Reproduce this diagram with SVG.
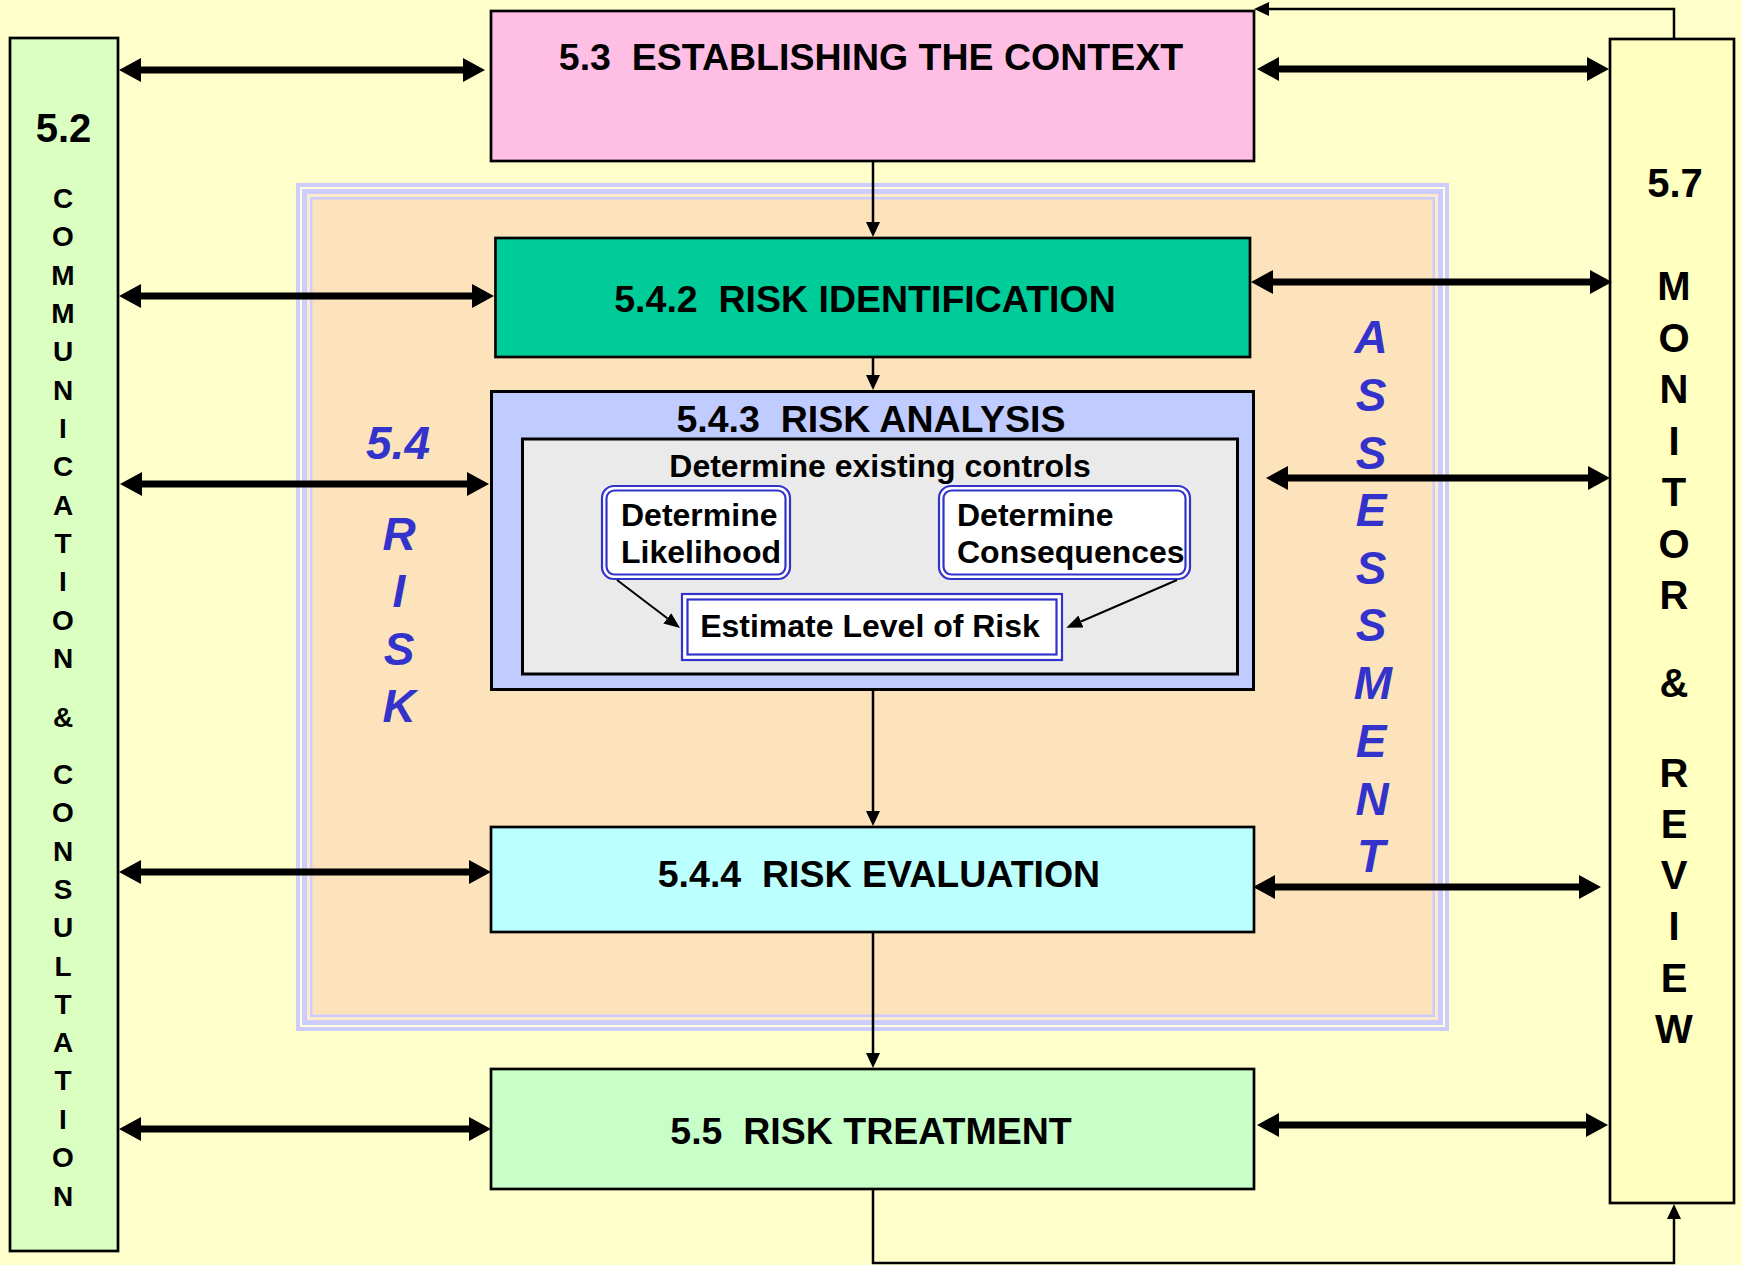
<svg xmlns="http://www.w3.org/2000/svg" width="1742" height="1265" viewBox="0 0 1742 1265">
  <style>
    .t { font-family: "Liberation Sans", Arial, Helvetica, sans-serif; font-weight: bold; fill: #000; }
    .title { font-size: 37.5px; text-anchor: middle; }
    .sub { font-size: 32px; }
    .mid { text-anchor: middle; }
    .blue { fill: #3333CC; font-style: italic; font-size: 46px; text-anchor: middle; }
    .lt { font-size: 28px; text-anchor: middle; }
    .rt { font-size: 40px; text-anchor: middle; }
    .box { stroke: #000; stroke-width: 2.7; }
    .box3 { stroke: #000; stroke-width: 3; }
    .dbl { fill: #fff; stroke: #3333CC; stroke-width: 2.2; }
    .thick { stroke: #000; stroke-width: 7; fill: none; marker-start: url(#bigHead); marker-end: url(#bigHead); }
    .thin { stroke: #000; stroke-width: 2.5; fill: none; marker-end: url(#smallHead); }
    .fine { stroke: #000; stroke-width: 2; fill: none; marker-end: url(#innerHead); }
  </style>
  <defs>
    <marker id="bigHead" markerUnits="userSpaceOnUse" viewBox="0 0 22 24" markerWidth="22" markerHeight="24" refX="0" refY="12" orient="auto-start-reverse">
      <path d="M0,0 L22,12 L0,24 z" fill="#000"/>
    </marker>
    <marker id="smallHead" markerUnits="userSpaceOnUse" viewBox="0 0 15 14" markerWidth="15" markerHeight="14" refX="0" refY="7" orient="auto">
      <path d="M0,0 L15,7 L0,14 z" fill="#000"/>
    </marker>
    <marker id="innerHead" markerUnits="userSpaceOnUse" viewBox="0 0 16 13" markerWidth="16" markerHeight="13" refX="0" refY="6.5" orient="auto">
      <path d="M0,0 L16,6.5 L0,13 z" fill="#000"/>
    </marker>
  </defs>

  <!-- page -->
  <rect x="0" y="0" width="1742" height="1265" fill="#FFFFCC"/>

  <!-- 5.4 risk assessment frame: striped border around peach field -->
  <g id="risk-assessment">
    <rect x="296" y="183" width="1153" height="848" fill="#CCCCFF"/>
    <rect x="300" y="187" width="1145" height="840" fill="#FFFFDD"/>
    <rect x="302" y="189" width="1141" height="836" fill="#CCCCFF"/>
    <rect x="307" y="194" width="1131" height="826" fill="#FEEBCB"/>
    <rect x="310" y="197" width="1125" height="820" fill="#CCCCFF"/>
    <rect x="312.5" y="199.5" width="1120" height="815" fill="#FCE3BB"/>
    <text class="t blue" x="398" y="459" font-size="45">5.4</text>
    <text class="t blue" x="399" y="550">R</text>
    <text class="t blue" x="399" y="607">I</text>
    <text class="t blue" x="399" y="665">S</text>
    <text class="t blue" x="399" y="722">K</text>
    <text class="t blue" x="1371" y="353">A</text>
    <text class="t blue" x="1371" y="411">S</text>
    <text class="t blue" x="1371" y="469">S</text>
    <text class="t blue" x="1371" y="526">E</text>
    <text class="t blue" x="1371" y="584">S</text>
    <text class="t blue" x="1371" y="641">S</text>
    <text class="t blue" x="1373" y="699">M</text>
    <text class="t blue" x="1371" y="757">E</text>
    <text class="t blue" x="1372" y="815">N</text>
    <text class="t blue" x="1371" y="872">T</text>
  </g>

  <!-- 5.2 communication and consultation -->
  <g id="communication">
    <rect class="box" x="10" y="38" width="108" height="1213" fill="#DAFFC0"/>
    <text class="t mid" x="63.5" y="142" font-size="40">5.2</text>
    <text class="t lt" x="63" y="208">C</text>
    <text class="t lt" x="63" y="246">O</text>
    <text class="t lt" x="63" y="285">M</text>
    <text class="t lt" x="63" y="323">M</text>
    <text class="t lt" x="63" y="361">U</text>
    <text class="t lt" x="63" y="400">N</text>
    <text class="t lt" x="63" y="438">I</text>
    <text class="t lt" x="63" y="476">C</text>
    <text class="t lt" x="63" y="515">A</text>
    <text class="t lt" x="63" y="553">T</text>
    <text class="t lt" x="63" y="591">I</text>
    <text class="t lt" x="63" y="630">O</text>
    <text class="t lt" x="63" y="668">N</text>
    <text class="t lt" x="63" y="727">&amp;</text>
    <text class="t lt" x="63" y="784">C</text>
    <text class="t lt" x="63" y="822">O</text>
    <text class="t lt" x="63" y="861">N</text>
    <text class="t lt" x="63" y="899">S</text>
    <text class="t lt" x="63" y="937">U</text>
    <text class="t lt" x="63" y="976">L</text>
    <text class="t lt" x="63" y="1014">T</text>
    <text class="t lt" x="63" y="1052">A</text>
    <text class="t lt" x="63" y="1090">T</text>
    <text class="t lt" x="63" y="1129">I</text>
    <text class="t lt" x="63" y="1167">O</text>
    <text class="t lt" x="63" y="1206">N</text>
  </g>

  <!-- 5.7 monitor and review -->
  <g id="monitor">
    <rect class="box" x="1610" y="39" width="124" height="1164" fill="#FFFFBF"/>
    <text class="t rt" x="1675" y="197" font-size="41">5.7</text>
    <text class="t rt" x="1674" y="300">M</text>
    <text class="t rt" x="1674" y="352">O</text>
    <text class="t rt" x="1674" y="403">N</text>
    <text class="t rt" x="1674" y="455">I</text>
    <text class="t rt" x="1674" y="506">T</text>
    <text class="t rt" x="1674" y="558">O</text>
    <text class="t rt" x="1674" y="609">R</text>
    <text class="t rt" x="1674" y="697">&amp;</text>
    <text class="t rt" x="1674" y="787">R</text>
    <text class="t rt" x="1674" y="838">E</text>
    <text class="t rt" x="1674" y="889">V</text>
    <text class="t rt" x="1674" y="940">I</text>
    <text class="t rt" x="1674" y="992">E</text>
    <text class="t rt" x="1674" y="1043">W</text>
  </g>

  <!-- 5.3 establishing the context -->
  <g id="context">
    <rect class="box" x="491" y="11" width="763" height="150" fill="#FFBFE5"/>
    <text class="t title" x="871" y="70" xml:space="preserve">5.3  ESTABLISHING THE CONTEXT</text>
  </g>

  <!-- 5.4.2 risk identification -->
  <g id="identification">
    <rect class="box" x="495.5" y="238" width="754.5" height="119" fill="#00CC99"/>
    <text class="t title" x="865" y="312" xml:space="preserve">5.4.2  RISK IDENTIFICATION</text>
  </g>

  <!-- 5.4.3 risk analysis with its inner steps -->
  <g id="analysis">
    <rect class="box3" x="491.5" y="391.5" width="762" height="298" fill="#C0CCFF"/>
    <text class="t title" x="871" y="432" xml:space="preserve">5.4.3  RISK ANALYSIS</text>
    <g id="existing-controls">
      <rect class="box3" x="522.5" y="439" width="715" height="235" fill="#EAEAEA"/>
      <text class="t sub mid" x="880" y="477">Determine existing controls</text>
    </g>
    <g id="likelihood">
      <rect class="dbl" x="602" y="486" width="188" height="93" rx="12"/>
      <rect class="dbl" x="606.5" y="490.5" width="179" height="84" rx="8"/>
      <text class="t sub" x="621" y="526">Determine</text>
      <text class="t sub" x="621" y="563">Likelihood</text>
    </g>
    <g id="consequences">
      <rect class="dbl" x="939" y="486" width="251" height="93" rx="12"/>
      <rect class="dbl" x="943.5" y="490.5" width="242" height="84" rx="8"/>
      <text class="t sub" x="957" y="526">Determine</text>
      <text class="t sub" x="957" y="563">Consequences</text>
    </g>
    <g id="estimate">
      <rect class="dbl" x="682" y="594" width="380" height="66"/>
      <rect class="dbl" x="687.5" y="599.5" width="369" height="55"/>
      <text class="t sub mid" x="870" y="637">Estimate Level of Risk</text>
    </g>
  </g>

  <!-- 5.4.4 risk evaluation -->
  <g id="evaluation">
    <rect class="box" x="491" y="827" width="763" height="105" fill="#BBFFFF"/>
    <text class="t title" x="879" y="887" xml:space="preserve">5.4.4  RISK EVALUATION</text>
  </g>

  <!-- 5.5 risk treatment -->
  <g id="treatment">
    <rect class="box" x="491" y="1069" width="763" height="120" fill="#C8FFC8"/>
    <text class="t title" x="871" y="1144" xml:space="preserve">5.5  RISK TREATMENT</text>
  </g>

  <!-- connectors -->
  <g id="connectors">
    <!-- communication links on the left -->
    <line class="thick" x1="141" y1="70" x2="463" y2="70"/>
    <line class="thick" x1="141" y1="296" x2="472" y2="296"/>
    <line class="thick" x1="142" y1="484" x2="467" y2="484"/>
    <line class="thick" x1="141" y1="872" x2="469" y2="872"/>
    <line class="thick" x1="141" y1="1129" x2="469" y2="1129"/>
    <!-- monitor links on the right -->
    <line class="thick" x1="1279" y1="69" x2="1587" y2="69"/>
    <line class="thick" x1="1273" y1="282" x2="1590" y2="282"/>
    <line class="thick" x1="1288" y1="478" x2="1588" y2="478"/>
    <line class="thick" x1="1275" y1="887" x2="1579" y2="887"/>
    <line class="thick" x1="1279" y1="1125" x2="1586" y2="1125"/>
    <!-- main process flow -->
    <line class="thin" x1="873" y1="161" x2="873" y2="222"/>
    <line class="thin" x1="873" y1="357" x2="873" y2="375"/>
    <line class="thin" x1="873" y1="691" x2="873" y2="811"/>
    <line class="thin" x1="873" y1="932" x2="873" y2="1053"/>
    <!-- feedback loops through monitor and review -->
    <path class="thin" d="M873,1189 V1263 H1674 V1219"/>
    <path class="thin" d="M1674,39 V9 H1269"/>
    <!-- analysis steps -->
    <line class="fine" x1="617" y1="580" x2="667.3" y2="618.3"/>
    <line class="fine" x1="1177" y1="580" x2="1081" y2="621.5"/>
  </g>
</svg>
